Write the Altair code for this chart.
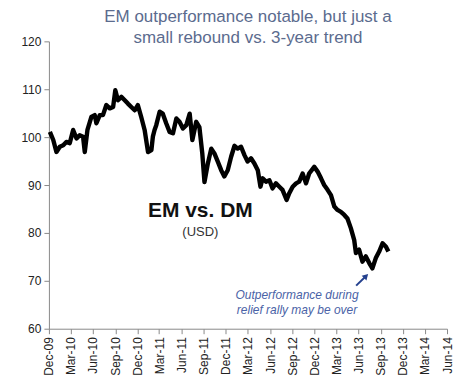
import altair as alt
import pandas as pd

# ---- data ----
dates = [
    "2009-12-05", "2009-12-19", "2010-01-01", "2010-01-15", "2010-01-29", "2010-02-11",
    "2010-02-25", "2010-03-11", "2010-03-25", "2010-04-07", "2010-04-21", "2010-04-28",
    "2010-05-09", "2010-05-25", "2010-06-08", "2010-06-15", "2010-06-29", "2010-07-12",
    "2010-07-26", "2010-08-09", "2010-08-23", "2010-09-01", "2010-09-12", "2010-09-26",
    "2010-10-10", "2010-10-23", "2010-11-06", "2010-11-20", "2010-12-03", "2010-12-17",
    "2010-12-31", "2011-01-14", "2011-01-28", "2011-02-03", "2011-02-10", "2011-02-17",
    "2011-03-03", "2011-03-16", "2011-03-30", "2011-04-13", "2011-04-27", "2011-05-11",
    "2011-05-24", "2011-06-07", "2011-06-21", "2011-07-05", "2011-07-16", "2011-08-01",
    "2011-08-14", "2011-08-26", "2011-09-04", "2011-09-18", "2011-10-02", "2011-10-15",
    "2011-10-29", "2011-11-12", "2011-11-25", "2011-12-09", "2011-12-23", "2012-01-06",
    "2012-01-19", "2012-02-02", "2012-02-16", "2012-02-29", "2012-03-14", "2012-03-28",
    "2012-04-11", "2012-04-22", "2012-05-01", "2012-05-15", "2012-05-29", "2012-06-11",
    "2012-06-25", "2012-07-09", "2012-07-22", "2012-08-08", "2012-08-19", "2012-09-02",
    "2012-09-16", "2012-09-29", "2012-10-13", "2012-10-27", "2012-11-09", "2012-11-30",
    "2012-12-14", "2012-12-28", "2013-01-10", "2013-01-24", "2013-02-07", "2013-02-21",
    "2013-03-06", "2013-03-20", "2013-04-03", "2013-04-16", "2013-04-30", "2013-05-14",
    "2013-05-21", "2013-06-03", "2013-06-17", "2013-07-01", "2013-07-15", "2013-07-28",
    "2013-08-11", "2013-08-25", "2013-09-08", "2013-09-22", "2013-10-02",
]
values = [
    101.1, 99.4, 96.9, 98.0, 98.3, 99.0,
    98.75, 101.5, 99.7, 100.4, 100.1, 96.9,
    101.5, 104.2, 104.6, 102.9, 104.6, 104.6,
    106.7, 106.0, 106.3, 109.8, 107.7, 108.4,
    107.7, 107.0, 106.3, 105.6, 106.7, 104.2,
    101.5, 96.9, 97.3, 100.1, 101.5, 102.5,
    105.3, 104.9, 102.9, 101.1, 100.8, 103.9,
    103.2, 101.8, 102.5, 104.9, 99.4, 103.2,
    102.1, 96.6, 90.6, 94.5, 97.6, 96.6,
    94.9, 93.1, 91.8, 93.1, 95.9, 98.2,
    97.6, 98.0, 96.25, 94.9, 95.6, 94.5,
    93.1, 89.65, 91.4, 90.7, 91.0, 89.3,
    90.35, 89.65, 89.0, 86.9, 88.3, 89.65,
    90.35, 90.7, 92.4, 90.35, 92.4, 93.8,
    92.8, 91.4, 90.0, 89.0, 87.9, 85.5,
    84.8, 84.4, 83.75, 83.0, 81.0, 78.5,
    75.8, 76.5, 74.0, 75.1, 73.7, 72.6,
    74.75, 76.1, 77.85, 77.1, 76.1,
]

y_ticks = [60, 70, 80, 90, 100, 110, 120]
x_tick_dates = [
    "2009-12-01", "2010-03-01", "2010-06-01", "2010-09-01", "2010-12-01", "2011-03-01",
    "2011-06-01", "2011-09-01", "2011-12-01", "2012-03-01", "2012-06-01", "2012-09-01",
    "2012-12-01", "2013-03-01", "2013-06-01", "2013-09-01", "2013-12-01", "2014-03-01",
    "2014-06-01",
]

title_lines = ["EM outperformance notable, but just a", "small rebound vs. 3-year trend"]

# annotations (data coordinates)
big_label = ["EM vs. DM"]
big_label_pos = [("2011-08-18", 83.3)]
sub_label = ["(USD)"]
sub_label_pos = [("2011-08-18", 79.4)]
note_lines = ["Outperformance during", "relief rally may be over"]
note_pos = [("2012-09-20", 66.2), ("2012-09-20", 63.1)]
arrow_from = ("2013-05-22", 69.0)
arrow_to = ("2013-07-02", 71.0)

FONT = "Liberation Sans"

def ms(s):
    return int(pd.Timestamp(s, tz="UTC").value // 10**6)

df = pd.DataFrame({"date": [ms(d) for d in dates], "value": values})

x_scale = alt.Scale(type="utc", domain=[ms(x_tick_dates[0]), ms(x_tick_dates[-1])], nice=False)
y_scale = alt.Scale(domain=[60, 120], nice=False)

x_axis = alt.Axis(
    values=[ms(d) for d in x_tick_dates],
    labelExpr="utcFormat(datum.value, '%b-%y')",
    labelAngle=270, labelFontSize=12, labelColor="#222222",
    labelFont=FONT, tickSize=5, tickColor="#8a8a8a", domainColor="#8a8a8a", grid=False,
    title=None, labelPadding=3, labelOverlap=False, labelBound=False, labelFlush=False,
)
y_axis = alt.Axis(
    values=y_ticks, labelFontSize=12, labelColor="#222222", labelFont=FONT, tickSize=5,
    tickColor="#8a8a8a", domainColor="#8a8a8a", grid=False, title=None, labelPadding=3,
)

def X(field="date"):
    return alt.X(f"{field}:T", scale=x_scale, axis=x_axis)

def Y(field="value"):
    return alt.Y(f"{field}:Q", scale=y_scale, axis=y_axis)

line = alt.Chart(df).mark_line(color="black", strokeWidth=4.4, strokeJoin="round").encode(
    x=X(), y=Y(),
)

def text_df(texts, pos):
    return pd.DataFrame({"t": texts, "date": [ms(p[0]) for p in pos], "value": [p[1] for p in pos]})

big = alt.Chart(text_df(big_label, big_label_pos)).mark_text(
    font=FONT, fontSize=21, fontWeight="bold", color="#111111", align="center", baseline="alphabetic"
).encode(x=X(), y=Y(), text="t:N")

sub = alt.Chart(text_df(sub_label, sub_label_pos)).mark_text(
    font=FONT, fontSize=13, color="#333333", align="center", baseline="alphabetic"
).encode(x=X(), y=Y(), text="t:N")

note = alt.Chart(text_df(note_lines, note_pos)).mark_text(
    font=FONT, fontSize=12, fontStyle="italic", color="#4a62a6", align="center", baseline="alphabetic"
).encode(x=X(), y=Y(), text="t:N")

arrow_df = pd.DataFrame({"date": [ms(arrow_from[0])], "value": [arrow_from[1]],
                         "date2": [ms(arrow_to[0])], "value2": [arrow_to[1]]})
arrow_line = alt.Chart(arrow_df).mark_rule(color="#24408e", strokeWidth=2).encode(
    x=X(), y=Y(), x2="date2:T", y2="value2:Q",
)
head_df = pd.DataFrame({"date": [ms(arrow_to[0])], "value": [arrow_to[1]]})
arrow_head = alt.Chart(head_df).mark_point(
    shape="triangle-up", angle=45, size=45, filled=True, color="#24408e", opacity=1
).encode(x=X(), y=Y())

title_df = pd.DataFrame({"t": title_lines, "yy": [-19, 2]})
title = alt.Chart(title_df).mark_text(
    font=FONT, fontSize=17, color="#5b6b8e", align="center", baseline="alphabetic"
).encode(x=alt.value(199.5), y=alt.Y("yy:Q", scale=None), text="t:N")

chart = alt.layer(line, big, sub, note, arrow_line, arrow_head, title).properties(
    width=399, height=288,
    autosize=alt.AutoSizeParams(type="none"),
    padding={"left": 41, "top": 33, "right": 10, "bottom": 56},
    background="white",
).configure_view(stroke=None)

chart.save("out.html", embed_options={"renderer": "svg", "actions": False})
